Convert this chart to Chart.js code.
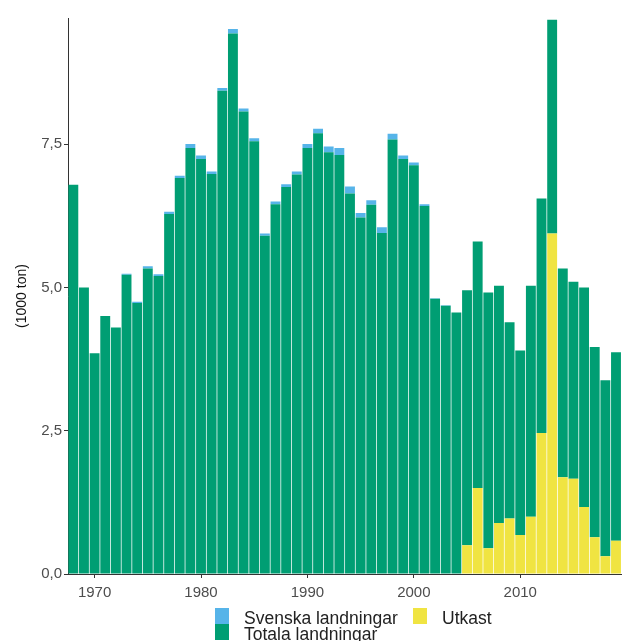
<!DOCTYPE html>
<html>
<head>
<meta charset="utf-8">
<script src="https://cdn.jsdelivr.net/npm/chart.js@4.4.1/dist/chart.umd.min.js"></script>
<style>
  body { margin: 0; background: #fff; }
  #wrap { position: relative; width: 622px; height: 641px; overflow: hidden; }
  #legend { position: absolute; left: 215px; top: 608px; font-family: "Liberation Sans", Arial, sans-serif; font-size: 17.5px; color: #222; }
  .item { position: absolute; white-space: nowrap; line-height: 16px; }
  .key { position: absolute; width: 14px; height: 16px; }
</style>
</head>
<body>
<div id="wrap">
  <canvas id="chart" width="622" height="641"></canvas>
  <div id="legend"></div>
</div>
<script>
const years = [];
for (let y = 1968; y <= 2019; y++) years.push(y);

// Totala landningar (utan svenska och utkast), 1000 ton
const totala = [
  6.79, 5.00, 3.85, 4.50, 4.30, 5.22, 4.73, 5.33, 5.20, 6.28,
  6.91, 7.43, 7.24, 6.98, 8.43, 9.43, 8.07, 7.55, 5.90, 6.45,
  6.75, 6.97, 7.43, 7.69, 7.36, 7.31, 6.64, 6.22, 6.44, 5.95,
  7.58, 7.24, 7.13, 6.42, 4.80, 4.68, 4.56, 4.45, 4.30, 4.46,
  4.14, 3.42, 3.22, 4.03, 4.09, 3.73, 3.64, 3.44, 3.83, 3.32,
  3.07, 3.29
];

// Svenska landningar
const svenska = [
  0.00, 0.00, 0.00, 0.00, 0.00, 0.02, 0.02, 0.04, 0.03, 0.04,
  0.04, 0.07, 0.06, 0.04, 0.05, 0.08, 0.05, 0.05, 0.04, 0.05,
  0.05, 0.05, 0.07, 0.08, 0.10, 0.12, 0.12, 0.08, 0.08, 0.10,
  0.10, 0.06, 0.05, 0.03, 0.01, 0.01, 0.00, 0.00, 0.00, 0.00,
  0.00, 0.00, 0.00, 0.00, 0.00, 0.00, 0.00, 0.00, 0.00, 0.00,
  0.00, 0.00
];

// Utkast
const utkast = [
  0, 0, 0, 0, 0, 0, 0, 0, 0, 0,
  0, 0, 0, 0, 0, 0, 0, 0, 0, 0,
  0, 0, 0, 0, 0, 0, 0, 0, 0, 0,
  0, 0, 0, 0, 0, 0, 0, 0.50, 1.50, 0.45,
  0.89, 0.97, 0.68, 1.00, 2.46, 5.94, 1.69, 1.66, 1.17, 0.64,
  0.31, 0.58
];

const yTicks = [0, 2.5, 5, 7.5];

const GREEN = '#009E73';
const BLUE = '#56B4E9';
const YELLOW = '#F0E442';
const FONT = "'Liberation Sans', Arial, sans-serif";

const barOpts = { barPercentage: 1, categoryPercentage: 0.93, borderWidth: 0 };

const ctx = document.getElementById('chart').getContext('2d');
new Chart(ctx, {
  type: 'bar',
  data: {
    labels: years,
    datasets: [
      { label: 'Utkast', data: utkast, backgroundColor: YELLOW, ...barOpts },
      { label: 'Totala landningar', data: totala, backgroundColor: GREEN, ...barOpts },
      { label: 'Svenska landningar', data: svenska, backgroundColor: BLUE, ...barOpts }
    ]
  },
  options: {
    responsive: false,
    animation: false,
    layout: { padding: { top: 18, right: 0, bottom: 0, left: 0 } },
    plugins: {
      legend: { display: false },
      tooltip: { enabled: false }
    },
    scales: {
      x: {
        stacked: true,
        offset: true,
        afterFit: (s) => { s.height = 67; },
        border: { display: true, color: '#333', width: 1 },
        grid: {
          offset: false,
          drawOnChartArea: false,
          drawTicks: true,
          tickLength: 4,
          color: (c) => (years[c.index] % 10 === 0 ? '#333' : 'rgba(0,0,0,0)')
        },
        ticks: {
          autoSkip: false,
          maxRotation: 0,
          padding: 6,
          color: '#4D4D4D',
          font: { family: FONT, size: 15 },
          callback: (v, i) => (years[i] % 10 === 0 ? String(years[i]) : '')
        }
      },
      y: {
        stacked: true,
        min: 0,
        max: 9.7,
        afterFit: (s) => { s.width = 68; },
        afterBuildTicks: (s) => { s.ticks = yTicks.map(v => ({ value: v })); },
        border: { display: true, color: '#333', width: 1 },
        grid: { drawOnChartArea: false, drawTicks: true, tickLength: 4, color: '#333' },
        title: {
          display: true,
          text: '(1000 ton)',
          color: '#111',
          padding: { top: 14, bottom: 4 },
          font: { family: FONT, size: 14 }
        },
        ticks: {
          padding: 2,
          color: '#4D4D4D',
          font: { family: FONT, size: 15 },
          callback: (v) => Number(v).toFixed(1).replace('.', ',')
        }
      }
    }
  }
});

// legend: two columns like the original
const legendItems = [
  { text: 'Svenska landningar', color: BLUE, x: 0, y: 0 },
  { text: 'Totala landningar', color: GREEN, x: 0, y: 16 },
  { text: 'Utkast', color: YELLOW, x: 198, y: 0 }
];
const legend = document.getElementById('legend');
legendItems.forEach(it => {
  const k = document.createElement('div');
  k.className = 'key';
  k.style.left = it.x + 'px';
  k.style.top = it.y + 'px';
  k.style.background = it.color;
  legend.appendChild(k);
  const t = document.createElement('div');
  t.className = 'item';
  t.style.left = (it.x + 29) + 'px';
  t.style.top = (it.y + 2) + 'px';
  t.textContent = it.text;
  legend.appendChild(t);
});
</script>
</body>
</html>
